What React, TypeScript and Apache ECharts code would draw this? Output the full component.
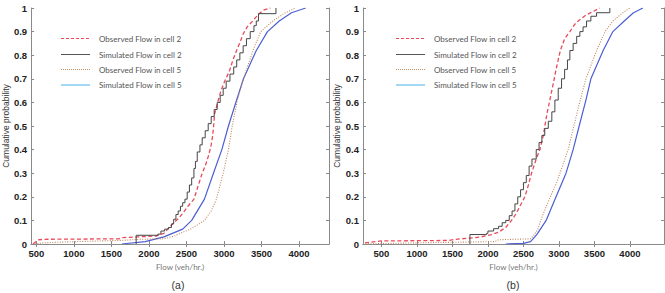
import React, { useEffect, useRef } from "react";
import * as echarts from "echarts";

const seriesNames = [
  "Observed Flow in cell 2",
  "Simulated Flow in cell 2",
  "Observed Flow in cell 5",
  "Simulated Flow in cell 5",
];
const panelLabels = ["(a)", "(b)"];
const xTicks = [500, 1000, 1500, 2000, 2500, 3000, 3500, 4000];

// Panel (a)
const obs2A: number[][] = [
  [455, 0], [520, 0.017], [600, 0.02], [1600, 0.022], [1650, 0.027], [1850, 0.03], [2100, 0.034],
  [2200, 0.045], [2250, 0.063], [2330, 0.09], [2400, 0.11], [2450, 0.13], [2520, 0.16], [2600, 0.19],
  [2650, 0.24], [2700, 0.29], [2760, 0.34], [2800, 0.38], [2830, 0.42], [2850, 0.46], [2862, 0.5],
  [2875, 0.55], [2925, 0.61], [2960, 0.65], [3010, 0.69], [3070, 0.73], [3120, 0.78], [3169, 0.82],
  [3220, 0.86], [3256, 0.89], [3310, 0.92], [3384, 0.945], [3450, 0.97], [3520, 0.99], [3620, 1],
];
const sim2A: number[][] = [
  [1830, 0], [1830, 0.037], [2120, 0.042], [2160, 0.055], [2210, 0.063], [2260, 0.07], [2300, 0.085],
  [2330, 0.105], [2360, 0.125], [2390, 0.14], [2420, 0.16], [2450, 0.175], [2480, 0.19], [2510, 0.22],
  [2540, 0.25], [2570, 0.28], [2600, 0.32], [2620, 0.35], [2644, 0.39], [2680, 0.42], [2710, 0.45],
  [2750, 0.48], [2790, 0.51], [2830, 0.54], [2870, 0.57], [2910, 0.6], [2950, 0.63], [2990, 0.66],
  [3030, 0.69], [3080, 0.72], [3130, 0.75], [3170, 0.78], [3212, 0.81], [3256, 0.84], [3300, 0.87],
  [3350, 0.9], [3400, 0.925], [3431, 0.945], [3460, 0.976], [3693, 1],
];
const obs5A: number[][] = [
  [480, 0], [600, 0.005], [1000, 0.01], [1600, 0.015], [1900, 0.02], [2200, 0.022], [2350, 0.035],
  [2450, 0.05], [2556, 0.063], [2640, 0.08], [2740, 0.1], [2830, 0.14], [2900, 0.19], [2990, 0.3],
  [3060, 0.4], [3110, 0.5], [3180, 0.61], [3260, 0.7], [3387, 0.82], [3490, 0.9], [3650, 0.945],
  [3820, 0.98], [3956, 1],
];
const sim5A: number[][] = [
  [1640, 0], [1950, 0.01], [2200, 0.03], [2450, 0.063], [2570, 0.1], [2740, 0.19], [2860, 0.3],
  [2972, 0.4], [3060, 0.5], [3169, 0.61], [3260, 0.7], [3431, 0.82], [3580, 0.9], [3737, 0.945],
  [3900, 0.98], [4090, 1],
];

// Panel (b)
const obs2B: number[][] = [
  [268, 0.005], [500, 0.013], [1450, 0.015], [1550, 0.02], [1750, 0.025], [1900, 0.03], [2050, 0.04],
  [2150, 0.05], [2250, 0.07], [2332, 0.1], [2400, 0.13], [2450, 0.16], [2520, 0.2], [2570, 0.25],
  [2614, 0.3], [2680, 0.36], [2732, 0.4], [2780, 0.46], [2802, 0.5], [2830, 0.55], [2872, 0.61],
  [2920, 0.68], [2960, 0.74], [3020, 0.82], [3080, 0.87], [3154, 0.9], [3220, 0.93], [3271, 0.945],
  [3380, 0.97], [3480, 0.985], [3576, 1],
];
const sim2B: number[][] = [
  [1746, 0], [1746, 0.04], [1980, 0.045], [2000, 0.055], [2080, 0.065], [2150, 0.075], [2200, 0.09],
  [2250, 0.1], [2300, 0.12], [2340, 0.14], [2380, 0.17], [2420, 0.2], [2460, 0.23], [2500, 0.26],
  [2540, 0.29], [2580, 0.33], [2620, 0.36], [2680, 0.4], [2720, 0.43], [2760, 0.46], [2800, 0.49],
  [2850, 0.52], [2900, 0.56], [2943, 0.61], [2990, 0.66], [3037, 0.7], [3080, 0.74], [3120, 0.78],
  [3154, 0.82], [3200, 0.85], [3250, 0.88], [3295, 0.9], [3340, 0.92], [3389, 0.945], [3450, 0.965],
  [3530, 0.98], [3717, 1],
];
const obs5B: number[][] = [
  [240, 0], [1000, 0.005], [2100, 0.01], [2150, 0.018], [2600, 0.022], [2640, 0.035], [2700, 0.06],
  [2755, 0.11], [2850, 0.18], [2967, 0.26], [3050, 0.33], [3130, 0.4], [3210, 0.5], [3300, 0.61],
  [3380, 0.7], [3530, 0.82], [3650, 0.9], [3760, 0.945], [3900, 0.98], [4000, 1],
];
const sim5B: number[][] = [
  [2250, 0], [2500, 0.003], [2600, 0.01], [2660, 0.03], [2700, 0.045], [2820, 0.1], [2940, 0.186],
  [3100, 0.3], [3200, 0.4], [3285, 0.5], [3380, 0.61], [3450, 0.7], [3623, 0.82], [3760, 0.9],
  [3920, 0.945], [4050, 0.98], [4182, 1],
];

const panels = [
  { data: [obs2A, sim2A, obs5A, sim5A], xMin: 430, xMax: 4400, left: 28 },
  { data: [obs2B, sim2B, obs5B, sim5B], xMin: 240, xMax: 4480, left: 363 },
];

const colors = ["#e84a5a", "#454545", "#c0855a", "#4b5ed2"];
const legendColors = ["#e84a5a", "#555555", "#c8925f", "#72c3ec"];
const lineTypes: any[] = [[4, 2.5], "solid", [1, 1.5], "solid"];
const legendDash: any[] = [[3, 2], null, [1, 1], null];
const widths = [1.3, 1, 1.1, 1.2];
const steps: any[] = [false, "end", false, false];
const legendRows = [38.5, 54.5, 69.5, 85];

export default function App() {
  const ref = useRef<HTMLDivElement>(null);
  useEffect(() => {
    if (!ref.current) return;
    const chart = echarts.init(ref.current, null, { renderer: "svg" });
    const grids: any[] = [];
    const xAxes: any[] = [];
    const yAxes: any[] = [];
    const series: any[] = [];
    const graphics: any[] = [];
    const axisColor = "#8a8a8a";
    panels.forEach((p, i) => {
      grids.push({ left: p.left, top: 8, width: 301, height: 236 });
      const baseX = {
        type: "value",
        gridIndex: i,
        min: p.xMin,
        max: p.xMax,
        splitLine: { show: false },
        axisLine: { lineStyle: { color: axisColor, width: 1 } },
      };
      xAxes.push({
        ...baseX,
        position: "bottom",
        axisTick: { inside: true, length: 3, customValues: xTicks, lineStyle: { color: axisColor } },
        axisLabel: {
          customValues: xTicks,
          fontSize: 9.5,
          fontWeight: "bold",
          color: "#222",
          fontFamily: "Liberation Sans",
          margin: 4,
          formatter: (v: number) => String(v),
        },
        name: "Flow (veh/hr.)",
        nameLocation: "middle",
        nameGap: 17,
        nameTextStyle: { fontFamily: "Lato", fontSize: 8, color: "#777" },
      });
      xAxes.push({
        ...baseX,
        position: "top",
        axisTick: { inside: true, length: 3, customValues: xTicks, lineStyle: { color: axisColor } },
        axisLabel: { show: false },
      });
      const baseY = {
        type: "value",
        gridIndex: i,
        min: 0,
        max: 1,
        interval: 0.1,
        splitLine: { show: false },
        axisLine: { show: true, lineStyle: { color: axisColor, width: 1 } },
        axisTick: { show: true, inside: true, length: 3, lineStyle: { color: axisColor } },
      };
      yAxes.push({
        ...baseY,
        position: "left",
        axisLabel: {
          fontSize: 9.5,
          fontWeight: "bold",
          color: "#222",
          fontFamily: "Liberation Sans",
          margin: 4,
          formatter: (v: number) => String(Math.round(v * 10) / 10),
        },
        name: "Cumulative probability",
        nameLocation: "middle",
        nameGap: 19,
        nameTextStyle: { fontFamily: "Liberation Sans", fontSize: 8.5, color: "#333" },
      });
      yAxes.push({ ...baseY, position: "right", axisLabel: { show: false } });
      p.data.forEach((d, k) => {
        series.push({
          type: "line",
          name: seriesNames[k],
          xAxisIndex: i * 2,
          yAxisIndex: i * 2,
          data: d,
          symbol: "none",
          step: steps[k],
          lineStyle: { color: colors[k], width: widths[k], type: lineTypes[k] },
          itemStyle: { color: colors[k] },
          z: [3, 4, 2, 1][k],
        });
      });
      seriesNames.forEach((n, k) => {
        const y = legendRows[k];
        graphics.push({
          type: "line",
          shape: { x1: p.left + 33, y1: y, x2: p.left + 62, y2: y },
          style: {
            stroke: legendColors[k],
            lineWidth: k === 3 ? 1.3 : 1,
            lineDash: legendDash[k] || undefined,
          },
        });
        graphics.push({
          type: "text",
          x: p.left + 71,
          y,
          style: {
            text: n,
            fontFamily: "Lato",
            fontSize: 8,
            fill: "#555",
            verticalAlign: "middle",
          },
        });
      });
      graphics.push({
        type: "text",
        x: p.left + 150,
        y: 285,
        style: {
          text: panelLabels[i],
          fontFamily: "Liberation Sans",
          fontSize: 10.5,
          fill: "#333",
          align: "center",
          verticalAlign: "middle",
        },
      });
    });
    chart.setOption({
      animation: false,
      backgroundColor: "#ffffff",
      grid: grids,
      xAxis: xAxes,
      yAxis: yAxes,
      series,
      graphic: graphics,
    });
    return () => chart.dispose();
  }, []);
  return <div ref={ref} style={{ width: 665, height: 293, position: "absolute", left: 0, top: 0 }} />;
}
